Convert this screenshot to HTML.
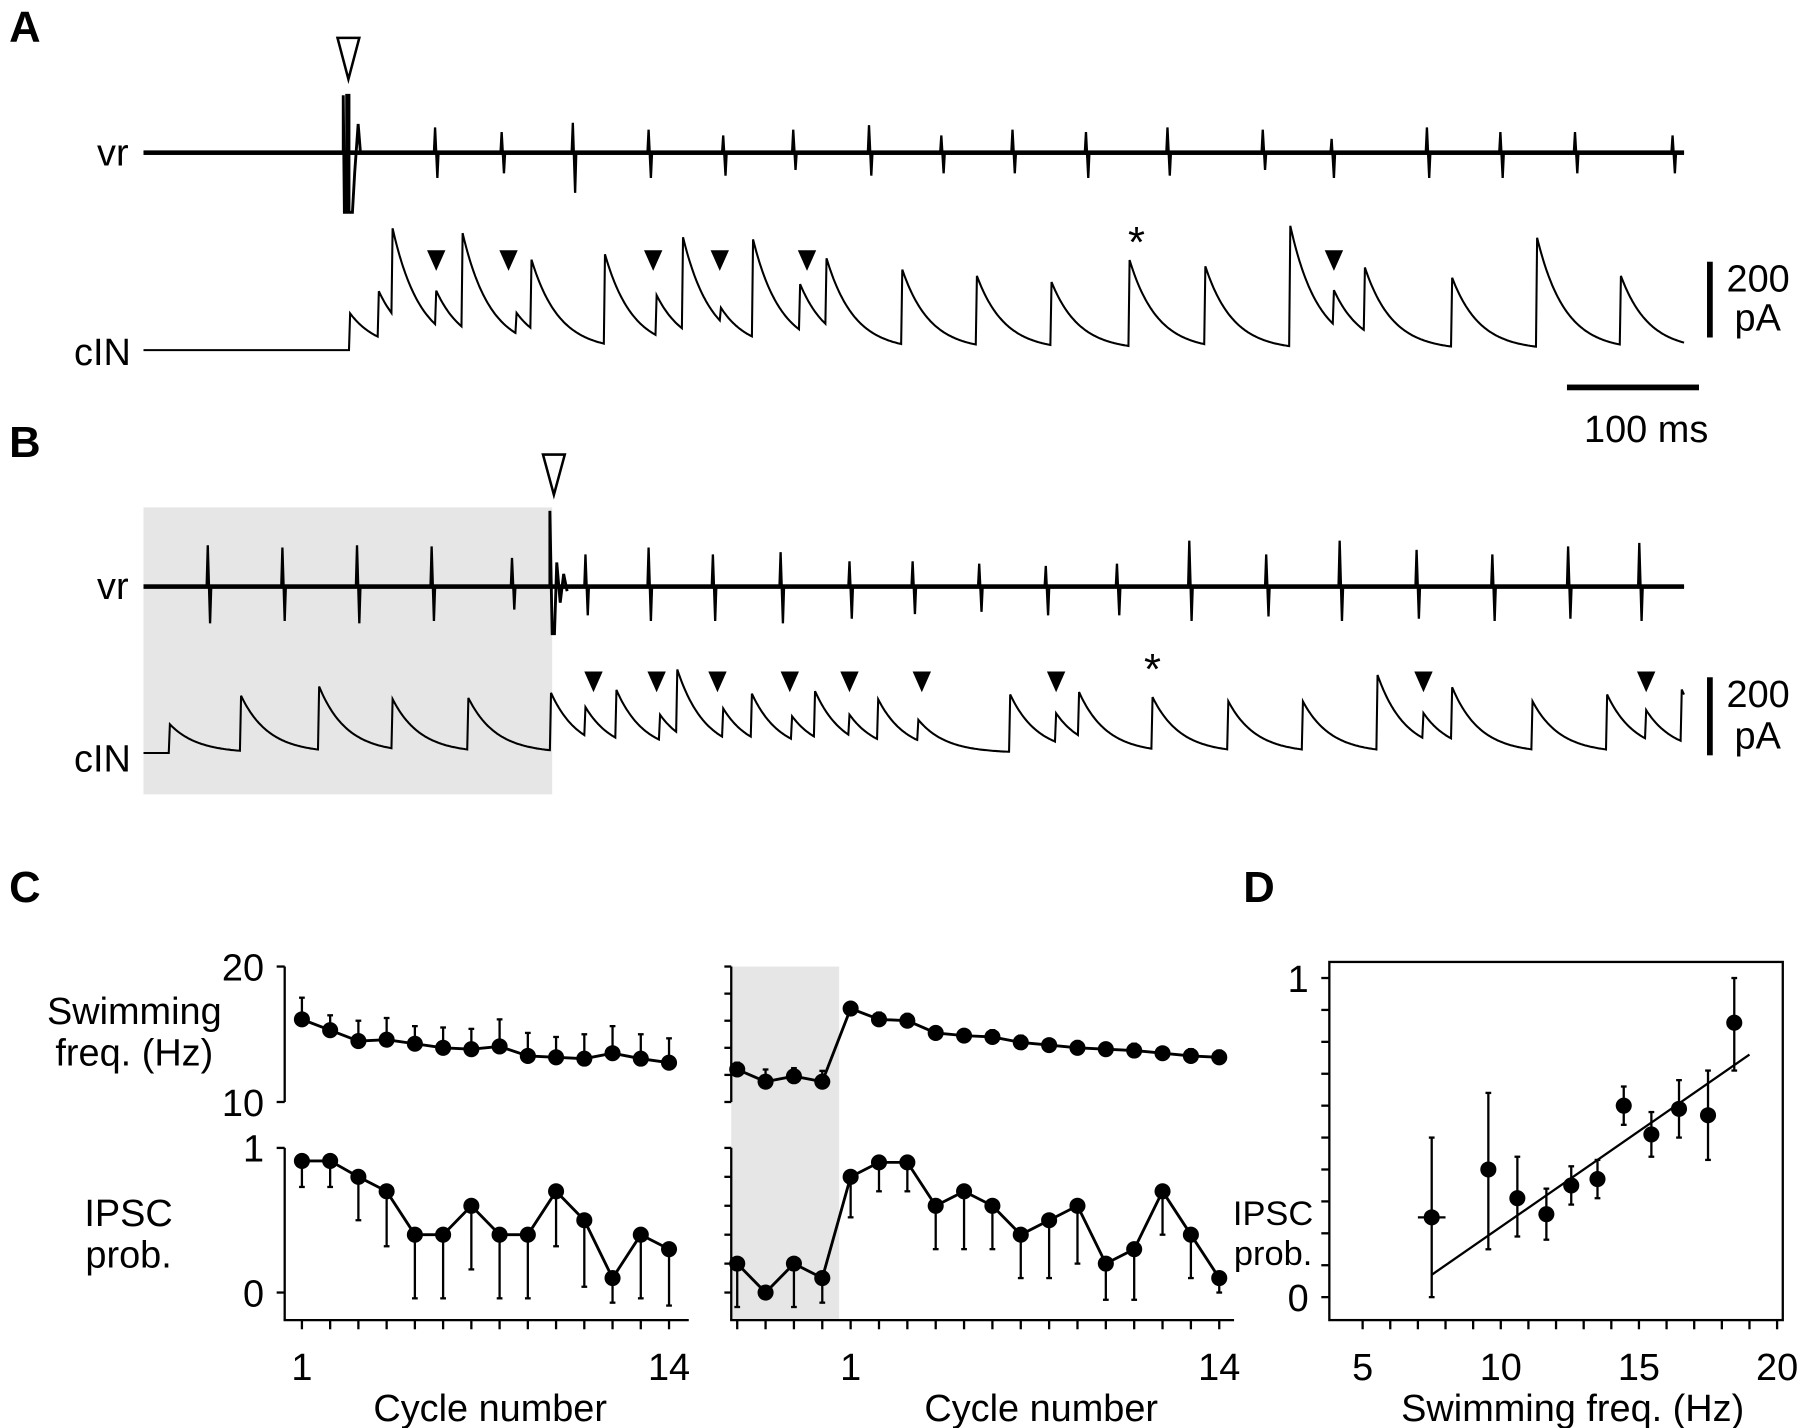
<!DOCTYPE html>
<html><head><meta charset="utf-8"><style>
html,body{margin:0;padding:0;background:#fff}
svg{display:block}
text{font-family:"Liberation Sans",Arial,sans-serif;fill:#000}
</style></head><body>
<svg id="fig" width="1800" height="1428" viewBox="0 0 1568 1244" preserveAspectRatio="none" xmlns="http://www.w3.org/2000/svg">
<rect width="1568" height="1244" fill="#fff"/>
<g id="static" font-size="33">
<text x="8" y="36" font-size="38" font-weight="bold">A</text>
<text x="8" y="398" font-size="38" font-weight="bold">B</text>
<text x="8" y="786" font-size="38" font-weight="bold">C</text>
<text x="1083" y="786" font-size="38" font-weight="bold">D</text>
<text x="112" y="144" text-anchor="end">vr</text>
<text x="114" y="318" text-anchor="end">cIN</text>
<text x="112" y="522" text-anchor="end">vr</text>
<text x="114" y="672" text-anchor="end">cIN</text>
<rect x="125" y="442" width="356" height="250" fill="#e6e6e6"/>
<polygon points="294,33 313,33 303.5,69" fill="#fff" stroke="#000" stroke-width="2.2"/>
<polygon points="473,396 492,396 482.5,431" fill="#fff" stroke="#000" stroke-width="2.2"/>
<rect x="1487" y="228" width="5" height="66" fill="#000"/>
<text x="1504" y="254">200</text>
<text x="1511" y="288">pA</text>
<rect x="1365" y="335" width="115" height="5" fill="#000"/>
<text x="1434" y="385" text-anchor="middle">100 ms</text>
<rect x="1487" y="590" width="5" height="68" fill="#000"/>
<text x="1504" y="616">200</text>
<text x="1511" y="652">pA</text>
<text x="990" y="224" font-size="38" text-anchor="middle">*</text>
<text x="1004" y="596" font-size="38" text-anchor="middle">*</text>
<text x="117" y="892" text-anchor="middle">Swimming</text>
<text x="117" y="928" text-anchor="middle">freq. (Hz)</text>
<text x="112" y="1068" text-anchor="middle">IPSC</text>
<text x="112" y="1104" text-anchor="middle">prob.</text>
<text x="427" y="1238" text-anchor="middle">Cycle number</text>
<text x="907" y="1238" text-anchor="middle">Cycle number</text>
<text x="1109" y="1067" font-size="30" text-anchor="middle">IPSC</text>
<text x="1109" y="1102" font-size="30" text-anchor="middle">prob.</text>
<text x="1370" y="1238" text-anchor="middle">Swimming freq. (Hz)</text>
</g>
<g id="dyn"></g>
</svg>
<script>
// ---- Trace data (display coords: x position, amplitude) ----
var vrA_x=[379,437,499,565,630,691,757,820,882,946,1017,1100,1160,1243,1307,1372,1457];
var vrA_up=[22,18,26,20,15,20,24,15,20,18,22,20,12,22,18,18,15];
var vrA_dn=[22,18,35,22,20,15,20,18,18,22,20,15,22,22,22,18,18];
var vrB_x=[181,246,311,376,446,510,565,621,680,740,795,853,911,973,1036,1103,1167,1234,1300,1366,1428];
var vrB_up=[36,34,36,35,25,28,34,28,30,22,22,20,18,20,40,28,40,32,28,35,38];
var vrB_dn=[32,30,32,30,20,25,30,30,32,28,24,22,25,25,30,26,30,28,30,28,30];
var cinA_x=[305,330,342,380,403,450,463,527,572,595,628,656,697,720,786,851,916,984,1050,1124,1162,1189,1265,1339,1412];
var cinA_amp=[32,40,75,30,82,18,60,78,35,80,12,85,40,58,65,60,55,75,68,105,30,55,60,95,60];
var cinB_x=[148,210,278,342,408,480,510,537,575,590,630,655,690,710,740,765,800,880,920,940,1004,1070,1135,1200,1240,1265,1335,1400,1434,1465];
var cinB_amp=[25,48,55,43,45,50,25,42,22,55,25,38,20,40,18,35,18,50,25,38,45,42,42,65,22,45,42,48,25,45];
// ---- Panel C data ----
var cycles=[1,2,3,4,5,6,7,8,9,10,11,12,13,14];
var preCycles=[-3,-2,-1,0];
var freqL=[16.1,15.3,14.5,14.6,14.3,14.0,13.9,14.1,13.4,13.3,13.2,13.6,13.2,12.9];
var freqLErr=[1.6,1.1,1.5,1.6,1.3,1.5,1.5,2.0,1.7,1.5,1.8,2.0,1.8,1.8];
var ipscL=[0.91,0.91,0.80,0.70,0.40,0.40,0.60,0.40,0.40,0.70,0.50,0.10,0.40,0.30];
var ipscLErr=[0.18,0.18,0.30,0.38,0.44,0.44,0.44,0.44,0.44,0.38,0.46,0.17,0.44,0.39];
var freqPre=[12.4,11.5,11.9,11.5];
var freqPreErr=[0.5,0.9,0.6,0.8];
var freqR=[16.9,16.1,16.0,15.1,14.9,14.8,14.4,14.2,14.0,13.9,13.8,13.6,13.4,13.3];
var freqRErr=[0.3,0.5,0.5,0.4,0.4,0.5,0.5,0.4,0.5,0.4,0.5,0.4,0.5,0.5];
var ipscPre=[0.20,0.00,0.20,0.10];
var ipscPreErr=[0.30,0,0.30,0.17];
var ipscR=[0.80,0.90,0.90,0.60,0.70,0.60,0.40,0.50,0.60,0.20,0.30,0.70,0.40,0.10];
var ipscRErr=[0.28,0.20,0.20,0.30,0.40,0.30,0.30,0.40,0.40,0.25,0.35,0.30,0.30,0.10];
// ---- Panel D data ----
var dFreq=[7.5,9.55,10.6,11.65,12.55,13.5,14.45,15.45,16.45,17.5,18.45];
var dFreqErr=[0.5,0,0,0,0,0,0,0,0,0,0];
var dProb=[0.25,0.40,0.31,0.26,0.35,0.37,0.60,0.51,0.59,0.57,0.86];
var dProbUp=[0.25,0.24,0.13,0.08,0.06,0.06,0.06,0.07,0.09,0.14,0.14];
var dProbDn=[0.25,0.25,0.12,0.08,0.06,0.06,0.06,0.07,0.09,0.14,0.15];
var fitX=[7.5,19.0];
var fitY=[0.07,0.76];

var NS='http://www.w3.org/2000/svg';
var G=document.getElementById('dyn');
function mk(tag,attrs){var e=document.createElementNS(NS,tag);for(var k in attrs)e.setAttribute(k,attrs[k]);G.appendChild(e);return e;}

function vrPath(x0,x1,base,xs,ups,dns){
  var d='M'+x0+' '+base+' L';
  var pts=[];
  for(var i=0;i<xs.length;i++){pts.push(xs[i]-1+' '+base, xs[i]+' '+(base-ups[i]), (xs[i]+2)+' '+(base+dns[i]), (xs[i]+3)+' '+base);}
  return d+pts.join(' L')+' L'+x1+' '+base;
}
var e;
e=mk('rect',{x:125,y:131,width:1342,height:4,fill:'#000'});


e=mk('path',{d:vrPath(125,1467,133,vrA_x,vrA_up,vrA_dn),fill:'none',stroke:'#000','stroke-width':2});


e=mk('path',{d:'M299 133 L299 83 L300 185 L302 185 L302 83 L304 83 L304 185 L307 185 L309 150 L312 108 L314 133',fill:'none',stroke:'#000','stroke-width':2.5});


e=mk('rect',{x:125,y:509,width:1342,height:4,fill:'#000'});


e=mk('path',{d:vrPath(125,1467,511,vrB_x,vrB_up,vrB_dn),fill:'none',stroke:'#000','stroke-width':2});


e=mk('path',{d:'M479 511 L479 445 L481 552 L483 552 L485 490 L488 525 L491 500 L494 515',fill:'none',stroke:'#000','stroke-width':2.5});



function cinPath(x0,x1,base,xs,amps,tau){
  var d=[];
  for(var x=x0;x<=x1;x+=1){
    var v=0;
    for(var i=0;i<xs.length;i++){ if(x>=xs[i]) v+=amps[i]*Math.exp(-(x-xs[i])/tau); }
    d.push(x+' '+(base-v).toFixed(1));
  }
  return 'M'+d.join(' L');
}
e=mk('path',{d:cinPath(125,1467,305,cinA_x,cinA_amp,24),fill:'none',stroke:'#000','stroke-width':1.8});


e=mk('path',{d:cinPath(125,1467,656,cinB_x,cinB_amp,24),fill:'none',stroke:'#000','stroke-width':1.8});



var triA=[380,443,569,627,703,1162];
var triB=[517,572,625,688,740,803,920,1240,1434];
function tri(x,y,name){
  var t=mk('polygon',{points:(x-8)+','+y+' '+(x+8)+','+y+' '+x+','+(y+18),fill:'#000'});
  
  
}
triA.forEach(function(x){tri(x,218,'ipsc-arrowhead-a');});
triB.forEach(function(x){tri(x,585,'ipsc-arrowhead-b');});

function line(x1,y1,x2,y2,w,name){
  var l=mk('line',{x1:x1,y1:y1,x2:x2,y2:y2,stroke:'#000','stroke-width':w});
  
  
  return l;
}
function txt(x,y,s,anchor,name,size){
  var t=mk('text',{x:x,y:y,'text-anchor':anchor,'font-size':size||33});
  t.textContent=s;
  
  
}
function fy(v){return 842+(20-v)*11.8;}
function py(v){return 1000+(1-v)*126;}
function cxL(c){return 263+(c-1)*24.6;}
function cxR(c){return 741+(c-1)*24.7;}

e=mk('rect',{x:637,y:842,width:94,height:308,fill:'#e6e6e6'});



line(248,fy(20),248,fy(10),2,'c-left-freq-y-axis');
line(241,fy(20),248,fy(20),2,'c-left-freq-tick');
line(241,fy(10),248,fy(10),2,'c-left-freq-tick');
txt(230,fy(20)+12,'20','end','c-left-freq-tick-label');
txt(230,fy(10)+12,'10','end','c-left-freq-tick-label');
line(248,py(1),248,1150,2,'c-left-ipsc-y-axis');
line(241,py(1),248,py(1),2,'c-left-ipsc-tick');
line(241,py(0),248,py(0),2,'c-left-ipsc-tick');
txt(230,py(1)+12,'1','end','c-left-ipsc-tick-label');
txt(230,py(0)+12,'0','end','c-left-ipsc-tick-label');
line(247,1150,600,1150,2,'c-left-x-axis');
cycles.forEach(function(c){line(cxL(c),1150,cxL(c),1158,2,'c-left-x-tick');});
txt(cxL(1),1202,'1','middle','c-left-x-tick-label');
txt(cxL(14),1202,'14','middle','c-left-x-tick-label');

line(637,fy(20),637,fy(10),2,'c-right-freq-y-axis');
for(var k=0;k<=5;k++){line(631,fy(20-2*k),637,fy(20-2*k),2,'c-right-freq-tick');}
line(637,py(1),637,1150,2,'c-right-ipsc-y-axis');
for(var k2=0;k2<=5;k2++){line(631,py(1-0.2*k2),637,py(1-0.2*k2),2,'c-right-ipsc-tick');}
line(636,1150,1075,1150,2,'c-right-x-axis');
preCycles.concat(cycles).forEach(function(c){line(cxR(c),1150,cxR(c),1158,2,'c-right-x-tick');});
txt(cxR(1),1202,'1','middle','c-right-x-tick-label');
txt(cxR(14),1202,'14','middle','c-right-x-tick-label');

function series(xs,vals,errs,xf,yf,dir,name){
  var pts=[];
  for(var i=0;i<xs.length;i++){
    var x=xf(xs[i]),y=yf(vals[i]);
    pts.push(x+','+y);
    if(errs[i]>0){
      var ye=yf(vals[i]+dir*errs[i]);
      line(x,y,x,ye,2,name+'-error-bar');
      line(x-2.5,ye,x+2.5,ye,2,name+'-error-cap');
    }
  }
  var p=mk('polyline',{points:pts.join(' '),fill:'none',stroke:'#000','stroke-width':2.5});
  
  
  for(var j=0;j<xs.length;j++){
    var c=mk('circle',{cx:xf(xs[j]),cy:yf(vals[j]),r:7,fill:'#000'});
    
    
  }
}
series(cycles,freqL,freqLErr,cxL,fy,1,'c-left-freq');
series(cycles,ipscL,ipscLErr,cxL,py,-1,'c-left-ipsc');
var allC=preCycles.concat(cycles);
series(allC,freqPre.concat(freqR),freqPreErr.concat(freqRErr),cxR,fy,1,'c-right-freq');
series(allC,ipscPre.concat(ipscR),ipscPreErr.concat(ipscRErr),cxR,py,-1,'c-right-ipsc');

function dx(f){return 1187+(f-5)*24.07;}
function dy(p){return 1130-p*278;}
e=mk('rect',{x:1158,y:838,width:395,height:312,fill:'none',stroke:'#000','stroke-width':2});


for(var t=0;t<=10;t++){line(1151,dy(t/10),1158,dy(t/10),2,'d-y-tick');}
txt(1140,dy(1)+12,'1','end','d-y-tick-label');
txt(1140,dy(0)+12,'0','end','d-y-tick-label');
for(var f=5;f<=20;f++){line(dx(f),1150,dx(f),1158,2,'d-x-tick');}
[5,10,15,20].forEach(function(v){txt(dx(v),1202,String(v),'middle','d-x-tick-label');});
line(dx(fitX[0]),dy(fitY[0]),dx(fitX[1]),dy(fitY[1]),2,'d-regression-line');
for(var i=0;i<dFreq.length;i++){
  var x=dx(dFreq[i]),yu=dy(dProb[i]+dProbUp[i]),yd=dy(dProb[i]-dProbDn[i]);
  line(x,yu,x,yd,2,'d-error-bar');
  line(x-2.5,yu,x+2.5,yu,2,'d-error-cap');
  line(x-2.5,yd,x+2.5,yd,2,'d-error-cap');
  if(dFreqErr[i]>0){
    line(dx(dFreq[i]-dFreqErr[i]),dy(dProb[i]),dx(dFreq[i]+dFreqErr[i]),dy(dProb[i]),2,'d-x-error-bar');
  }
  var c=mk('circle',{cx:x,cy:dy(dProb[i]),r:7,fill:'#000'});
  
  
}
</script>
</body></html>
